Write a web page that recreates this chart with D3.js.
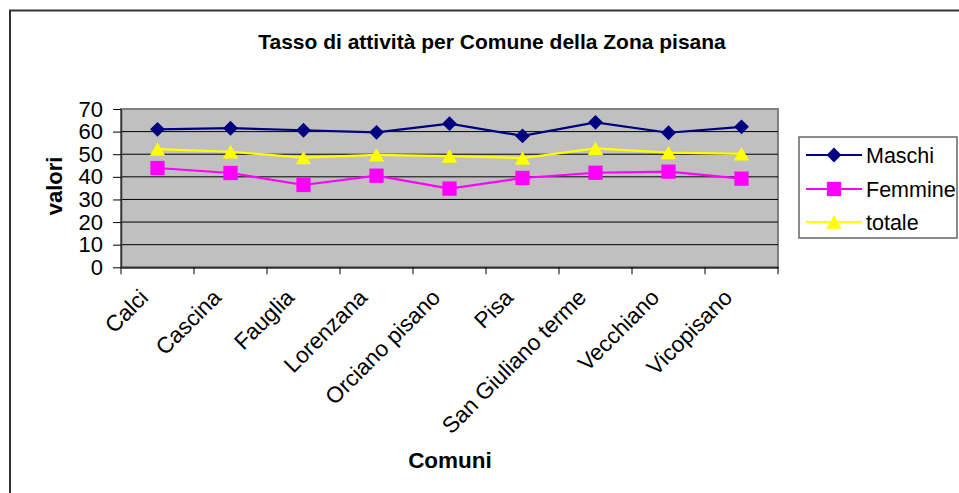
<!DOCTYPE html>
<html><head><meta charset="utf-8">
<script src="https://cdn.jsdelivr.net/npm/d3@7"></script>
<style>
html,body{margin:0;padding:0;background:#fff;overflow:hidden}
text{font-family:Arial,"Liberation Sans",sans-serif}
</style></head>
<body>
<script>
const categories = ["Calci","Cascina","Fauglia","Lorenzana","Orciano pisano","Pisa","San Giuliano terme","Vecchiano","Vicopisano"];
const maschi  = [61.0, 61.5, 60.6, 59.7, 63.5, 58.1, 64.1, 59.5, 62.1];
const femmine = [43.9, 41.7, 36.4, 40.5, 34.8, 39.5, 41.8, 42.3, 39.2];
const totale  = [52.3, 51.1, 48.5, 49.7, 49.2, 48.3, 52.6, 50.7, 50.2];
const yTicks  = [0,10,20,30,40,50,60,70];
const seriesNames = ["Maschi","Femmine","totale"];

const W = 959, H = 493;
const svg = d3.select("body").append("svg").attr("width", W).attr("height", H);

// chart border
svg.append("rect").attr("x",10).attr("y",10.5).attr("width",W+20).attr("height",H+20)
  .attr("fill","#fff").attr("stroke","#333").attr("stroke-width",2);

const plot = {left:121, right:778, top:109, bottom:267.3};
const x = d3.scaleBand().domain(categories).range([plot.left, plot.right]);
const y = d3.scaleLinear().domain([0,70]).range([plot.bottom, plot.top]);

// plot background
svg.append("rect").attr("x",plot.left).attr("y",plot.top)
  .attr("width",plot.right-plot.left).attr("height",plot.bottom-plot.top)
  .attr("fill","#c0c0c0").attr("stroke","#808080").attr("stroke-width",2);

// gridlines
svg.append("g").selectAll("line").data(yTicks.filter(d=>d>0 && d<70)).join("line")
  .attr("x1",plot.left).attr("x2",plot.right)
  .attr("y1",d=>y(d)).attr("y2",d=>y(d))
  .attr("stroke","#000").attr("stroke-width",1);

// y axis
const yAxis = svg.append("g").attr("transform",`translate(${plot.left},0)`)
  .call(d3.axisLeft(y).tickValues(yTicks).tickSize(8).tickPadding(10).tickSizeOuter(0));
yAxis.select(".domain").attr("stroke","#333").attr("stroke-width",1.5);
yAxis.selectAll(".tick line").attr("stroke","#000");
yAxis.selectAll(".tick text").attr("font-size",22).attr("fill","#000")
  .attr("font-family","Arial, 'Liberation Sans', sans-serif");

// x axis
const xAxis = svg.append("g").attr("transform",`translate(0,${plot.bottom})`)
  .call(d3.axisBottom(x).tickSize(0).tickSizeOuter(0).tickFormat(""));
xAxis.select(".domain").attr("stroke","#333").attr("stroke-width",2);
xAxis.selectAll(".tick").remove();
// tick marks at band boundaries
const bounds = categories.map(c=>x(c)).concat([x(categories[categories.length-1])+x.bandwidth()]);
svg.append("g").selectAll("line").data(bounds).join("line")
  .attr("x1",d=>d).attr("x2",d=>d).attr("y1",plot.bottom).attr("y2",plot.bottom+7)
  .attr("stroke","#000").attr("stroke-width",1);

// x labels rotated
svg.append("g").selectAll("text").data(categories).join("text")
  .attr("transform",d=>`translate(${x(d)+x.bandwidth()/2-13.5},${plot.bottom+26}) rotate(-45)`)
  .attr("text-anchor","end").attr("dy","0.35em")
  .attr("font-size",22.5).attr("fill","#000").text(d=>d);

// title
svg.append("text").attr("x",492).attr("y",49).attr("text-anchor","middle")
  .attr("font-size",21).attr("font-weight","bold").text("Tasso di attività per Comune della Zona pisana");
// axis titles
svg.append("text").attr("transform","translate(62,186) rotate(-90)").attr("text-anchor","middle")
  .attr("font-size",22).attr("font-weight","bold").text("valori");
svg.append("text").attr("x",450).attr("y",468).attr("text-anchor","middle")
  .attr("font-size",22.5).attr("font-weight","bold").text("Comuni");

const colors = ["#000080","#ff00ff","#ffff00"];
const symbols = [d3.symbolDiamond2, d3.symbolSquare2, d3.symbolTriangle2];
const sizes = [140, 260, 170];
const yOff = [0, 0, 2.2];
const data = [maschi, femmine, totale];
const line = d3.line().x((d,i)=>x(categories[i])+x.bandwidth()/2).y(d=>y(d));

function marker(g, k, tx, ty){
  const s = d3.symbol().type(symbols[k]).size(sizes[k]);
  g.append("path").attr("d", s()).attr("transform", `translate(${tx},${ty + yOff[k]})`)
    .attr("fill",colors[k]).attr("stroke","none");
}

data.forEach((vals,k)=>{
  const g = svg.append("g");
  g.append("path").datum(vals).attr("d",line).attr("fill","none")
    .attr("stroke",colors[k]).attr("stroke-width",2.2);
  vals.forEach((v,i)=>{
    marker(g,k,x(categories[i])+x.bandwidth()/2,y(v));
  });
});

// legend
const lg = svg.append("g");
lg.append("rect").attr("x",799).attr("y",137).attr("width",158).attr("height",101)
  .attr("fill","#fff").attr("stroke","#666").attr("stroke-width",1.5);
const legY = [155,189,222];
seriesNames.forEach((n,k)=>{
  lg.append("line").attr("x1",806).attr("x2",862).attr("y1",legY[k]).attr("y2",legY[k])
    .attr("stroke",colors[k]).attr("stroke-width",2.2);
  marker(lg,k,834,legY[k]);
  lg.append("text").attr("x",866).attr("y",legY[k]).attr("dy","0.35em")
    .attr("font-size",21.5).attr("fill","#000").text(n);
});
</script>
</body></html>
